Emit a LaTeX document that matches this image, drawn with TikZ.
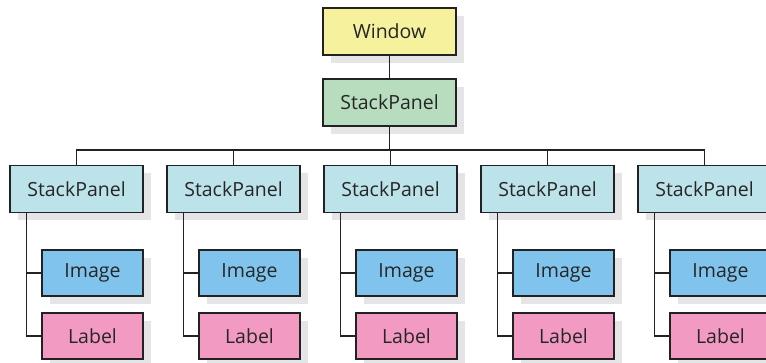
\documentclass[tikz,border=0pt]{standalone}
\usepackage{fontspec}
\setmainfont{Open Sans}
\usetikzlibrary{shadows}
\definecolor{cwin}{HTML}{F5F19C}
\definecolor{cgreen}{HTML}{B7DDBE}
\definecolor{cltblue}{HTML}{BDE3EA}
\definecolor{cimg}{HTML}{80C4EE}
\definecolor{clab}{HTML}{F29AC2}
\definecolor{cshadow}{HTML}{E5E5E7}
\definecolor{cline}{HTML}{222222}
\tikzset{
  box/.style={draw=cline, line width=1.1pt, rectangle, inner sep=0pt,
    font=\fontsize{19.5}{22}\selectfont, text=black!85,
    drop shadow={shadow xshift=8pt, shadow yshift=-8pt, fill=cshadow, opacity=1}},
  bigbox/.style={box, minimum width=133pt, minimum height=47pt},
  smallbox/.style={box, minimum width=101pt, minimum height=46pt},
  conn/.style={draw=cline, line width=1.6pt}
}
\begin{document}
\begin{tikzpicture}[x=1pt,y=-1pt]
\useasboundingbox (0,0) rectangle (766,363);
\node[bigbox, fill=cwin] (win) at (389.5,31.5) {Window};
\node[bigbox, fill=cgreen] (top) at (389.5,102.5) {StackPanel};
\foreach \k in {0,...,4} {
  \pgfmathsetmacro{\cx}{76.5+157*\k}
  \node[bigbox, fill=cltblue] (sp\k) at (\cx,189) {StackPanel};
  \node[smallbox, fill=cimg] (img\k) at (\cx+16,273) {Image};
  \node[smallbox, fill=clab] (lab\k) at (\cx+16,336) {Label};
}
\draw[conn] (win) -- (top);
\coordinate (bus) at (389.5,150);
\draw[conn] (top.south) -- (bus);
\draw[conn] (sp0.north) |- (bus) -| (sp4.north);
\foreach \k in {1,2,3} {
  \draw[conn] (sp\k.north) -- (sp\k.north |- bus);
}
\foreach \k in {0,...,4} {
  \coordinate (st\k) at ([xshift=17pt]sp\k.south west);
  \draw[conn] (st\k) |- (lab\k.west);
  \draw[conn] (st\k |- img\k.west) -- (img\k.west);
}
\end{tikzpicture}
\end{document}
